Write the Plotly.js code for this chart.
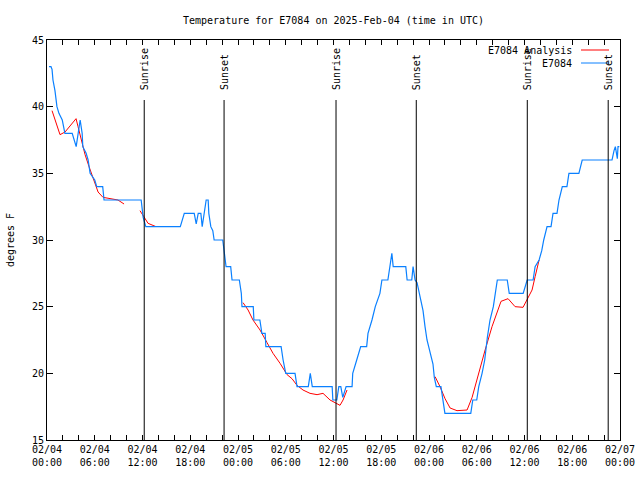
<!DOCTYPE html>
<html>
<head>
<meta charset="utf-8">
<script src="https://cdn.plot.ly/plotly-3.0.1.min.js"></script>
<style>html,body{margin:0;padding:0;background:#fff;}#chart{width:640px;height:480px;}</style>
</head>
<body>
<div id="chart"></div>
<script>
// Observed station temperatures (E7084)
const obsTimes = [
"2025-02-04 00:15","2025-02-04 00:30","2025-02-04 00:38","2025-02-04 00:45","2025-02-04 01:00","2025-02-04 01:15","2025-02-04 01:30","2025-02-04 01:55","2025-02-04 02:15","2025-02-04 03:10",
"2025-02-04 03:40","2025-02-04 04:10","2025-02-04 04:25","2025-02-04 04:30","2025-02-04 04:55","2025-02-04 05:10","2025-02-04 05:25","2025-02-04 06:00","2025-02-04 06:15","2025-02-04 07:00",
"2025-02-04 07:10","2025-02-04 11:50","2025-02-04 12:05","2025-02-04 12:25","2025-02-04 16:45","2025-02-04 17:15","2025-02-04 18:30","2025-02-04 18:45","2025-02-04 19:00","2025-02-04 19:20",
"2025-02-04 19:30","2025-02-04 19:45","2025-02-04 20:00","2025-02-04 20:15","2025-02-04 20:20","2025-02-04 20:35","2025-02-04 20:50","2025-02-04 21:00","2025-02-04 22:05","2025-02-04 22:15",
"2025-02-04 22:30","2025-02-04 23:05","2025-02-04 23:15",
"2025-02-05 00:10","2025-02-05 00:25","2025-02-05 00:30","2025-02-05 01:55","2025-02-05 02:00","2025-02-05 02:45","2025-02-05 03:00","2025-02-05 03:25","2025-02-05 03:30","2025-02-05 05:25",
"2025-02-05 05:40","2025-02-05 06:00","2025-02-05 07:10","2025-02-05 07:25","2025-02-05 08:50","2025-02-05 09:05","2025-02-05 09:20","2025-02-05 11:50","2025-02-05 11:55","2025-02-05 12:25",
"2025-02-05 12:40","2025-02-05 12:55","2025-02-05 13:10","2025-02-05 13:35","2025-02-05 14:20","2025-02-05 14:25","2025-02-05 14:55","2025-02-05 15:25","2025-02-05 16:10","2025-02-05 16:20",
"2025-02-05 16:50","2025-02-05 17:15","2025-02-05 17:50","2025-02-05 18:05","2025-02-05 18:50","2025-02-05 19:05","2025-02-05 19:20","2025-02-05 19:30","2025-02-05 21:05","2025-02-05 21:15",
"2025-02-05 21:50","2025-02-05 22:00","2025-02-05 22:15","2025-02-05 22:30","2025-02-05 22:50","2025-02-05 23:15","2025-02-05 23:30","2025-02-05 23:45",
"2025-02-06 00:10","2025-02-06 00:30","2025-02-06 00:40","2025-02-06 00:55","2025-02-06 01:30","2025-02-06 01:45","2025-02-06 02:00","2025-02-06 05:15","2025-02-06 05:30","2025-02-06 06:00",
"2025-02-06 06:15","2025-02-06 06:40","2025-02-06 07:00","2025-02-06 07:20","2025-02-06 07:40","2025-02-06 08:05","2025-02-06 08:20","2025-02-06 08:35","2025-02-06 09:50","2025-02-06 10:05",
"2025-02-06 11:50","2025-02-06 12:20","2025-02-06 13:05","2025-02-06 13:20","2025-02-06 13:50","2025-02-06 14:10","2025-02-06 14:25","2025-02-06 14:50","2025-02-06 15:20","2025-02-06 15:35",
"2025-02-06 16:05","2025-02-06 16:20","2025-02-06 16:45","2025-02-06 17:20","2025-02-06 17:35","2025-02-06 18:50","2025-02-06 19:15","2025-02-06 23:00","2025-02-06 23:15","2025-02-06 23:25",
"2025-02-06 23:40","2025-02-06 23:45","2025-02-06 23:55"
];
const obsTemps = [
43,43,42.8,42,41.2,40,39.5,39,38,38,
37,39,38,37,36.5,36,35,34.5,34,34,
33,33,31.7,31,31,32,32,31.2,32,32,
31,32,33,33,32,31,30.7,30,30,29.2,
28,28,27,
27,26,25,25,24,24,23,23,22,22,
21,20,20,19,19,20,19,19,18,18,
19,19,18.2,19,19,20,21,22,22,23,
24,25,26,27,27,28.2,29,28,28,27,
27,28,27,26.8,25.8,24.7,23.5,22.5,
21.5,20.7,19.7,19,19,18,17,17,18,18,
19,20,21,22.7,24,25,26,27,27,26,
26,27,27,28,28.5,29.2,30,31,31,32,
32,33,34,34,35,35,36,36,36.7,37,
36.1,37,37
];

// Analysis temperatures (null = gap in the analysis series)
const anaTimes = [
"2025-02-04 00:38","2025-02-04 01:38","2025-02-04 02:16","2025-02-04 03:39","2025-02-04 03:54","2025-02-04 04:24","2025-02-04 04:47","2025-02-04 05:17","2025-02-04 05:47","2025-02-04 06:25",
"2025-02-04 07:02","2025-02-04 08:10","2025-02-04 08:55","2025-02-04 09:41","2025-02-04 10:40",
"2025-02-04 11:41","2025-02-04 12:19","2025-02-04 12:42","2025-02-04 13:42","2025-02-04 18:00",
"2025-02-05 00:38","2025-02-05 01:16","2025-02-05 01:53","2025-02-05 02:46","2025-02-05 03:39","2025-02-05 04:24","2025-02-05 05:17","2025-02-05 06:10","2025-02-05 06:47","2025-02-05 07:25",
"2025-02-05 08:10","2025-02-05 09:03","2025-02-05 09:56","2025-02-05 10:41","2025-02-05 11:34","2025-02-05 12:27","2025-02-05 12:49","2025-02-05 13:12","2025-02-05 13:42","2025-02-05 18:00",
"2025-02-06 00:46","2025-02-06 01:23","2025-02-06 02:01","2025-02-06 02:39","2025-02-06 03:31","2025-02-06 04:47","2025-02-06 05:25","2025-02-06 06:10","2025-02-06 07:03","2025-02-06 07:55",
"2025-02-06 08:33","2025-02-06 09:03","2025-02-06 09:56","2025-02-06 10:49","2025-02-06 11:49","2025-02-06 12:19","2025-02-06 12:57","2025-02-06 13:20","2025-02-06 13:50"
];
const anaTemps = [
39.7,37.9,38.1,39.1,38.5,37.3,36.4,35.5,34.6,33.6,
33.2,33.1,33,32.7,null,
32.2,31.6,31.25,31,null,
25.3,24.75,24,23.25,22.3,21.5,20.75,19.9,19.6,19.1,
18.75,18.5,18.4,18.5,18,17.75,17.6,18,18.75,null,
19.75,19,18.1,17.4,17.2,17.25,18.2,19.9,21.75,23.5,
24.6,25.4,25.6,25,24.95,25.5,26.25,27.25,28.5
];

// Sun events
const sunTimes = ["2025-02-04 12:13","2025-02-04 22:15","2025-02-05 12:19","2025-02-05 22:24","2025-02-06 12:21","2025-02-06 22:31"];
const sunLabels = ["Sunrise","Sunset","Sunrise","Sunset","Sunrise","Sunset"];

// X ticks every 2 hours, labelled every 6 hours
const tickDays = ["02/04","02/05","02/06","02/07"];
const tickHours = ["00","02","04","06","08","10","12","14","16","18","20","22"];

const seriesNames = ["E7084 Analysis","E7084"];
const seriesColors = ["#ff0000","#0a80ff"];

const FONT = "DejaVu Sans Mono, monospace";

const tickvals = [], ticktext = [];
tickDays.forEach((d, di) => {
  tickHours.forEach((h, hi) => {
    if (di === tickDays.length - 1 && hi > 0) return;
    tickvals.push("2025-" + d.replace("/", "-") + " " + h + ":00");
    ticktext.push(hi % 3 === 0 ? d + "<br>" + h + ":00" : "");
  });
});

const traces = [
  {x: anaTimes, y: anaTemps, type: "scatter", mode: "lines", name: seriesNames[0],
   line: {color: seriesColors[0], width: 1}, connectgaps: false, showlegend: false},
  {x: obsTimes, y: obsTemps, type: "scatter", mode: "lines", name: seriesNames[1],
   line: {color: seriesColors[1], width: 1.2}, showlegend: false}
];

const shapes = [];
const annotations = [];
sunTimes.forEach((t, i) => {
  shapes.push({type: "line", xref: "x", yref: "paper", x0: t, x1: t, y0: 0, y1: 0.85,
               line: {color: "#000", width: 1}});
  annotations.push({xref: "x", yref: "paper", x: t, y: 0.87, text: sunLabels[i],
                    textangle: -90, showarrow: false, xanchor: "center", yanchor: "bottom",
                    font: {family: FONT, size: 10, color: "#000"}});
});

// custom legend: text right-aligned with line sample on its right
seriesNames.forEach((n, i) => {
  const yp = 1 - (10 + i * 13) / 400;
  annotations.push({xref: "paper", yref: "paper", x: (574 - 47) / 573, y: yp, text: n,
                    showarrow: false, xanchor: "right", yanchor: "middle",
                    font: {family: FONT, size: 10, color: "#000"}});
  shapes.push({type: "line", xref: "paper", yref: "paper", x0: (581 - 47) / 573, x1: (609 - 47) / 573,
               y0: yp, y1: yp, line: {color: seriesColors[i], width: 1}});
});

const layout = {
  width: 640, height: 480,
  margin: {l: 47, r: 20, t: 40, b: 40},
  paper_bgcolor: "#fff", plot_bgcolor: "#fff",
  font: {family: FONT, size: 10, color: "#000"},
  title: {text: "Temperature for E7084 on 2025-Feb-04 (time in UTC)", x: 0.5, xref: "paper",
          y: 1 - 20 / 480, yanchor: "middle", font: {family: FONT, size: 10, color: "#000"}},
  xaxis: {
    type: "date", range: ["2025-02-04 00:00", "2025-02-07 00:00"],
    tickmode: "array", tickvals: tickvals, ticktext: ticktext,
    ticks: "inside", ticklen: 5, tickcolor: "#000",
    showline: true, linecolor: "#000", linewidth: 1, mirror: "allticks",
    showgrid: false, zeroline: false, fixedrange: true,
    tickfont: {family: FONT, size: 10, color: "#000"}
  },
  yaxis: {
    range: [15, 45], dtick: 5, ticks: "inside", ticklen: 6, tickcolor: "#000",
    showline: true, linecolor: "#000", linewidth: 1, mirror: "allticks",
    showgrid: false, zeroline: false, fixedrange: true,
    title: {text: "degrees F", standoff: 15, font: {family: FONT, size: 10, color: "#000"}},
    tickfont: {family: FONT, size: 10, color: "#000"}
  },
  shapes: shapes,
  annotations: annotations,
  showlegend: false
};

Plotly.newPlot("chart", traces, layout, {staticPlot: true, displayModeBar: false});
</script>
</body>
</html>
